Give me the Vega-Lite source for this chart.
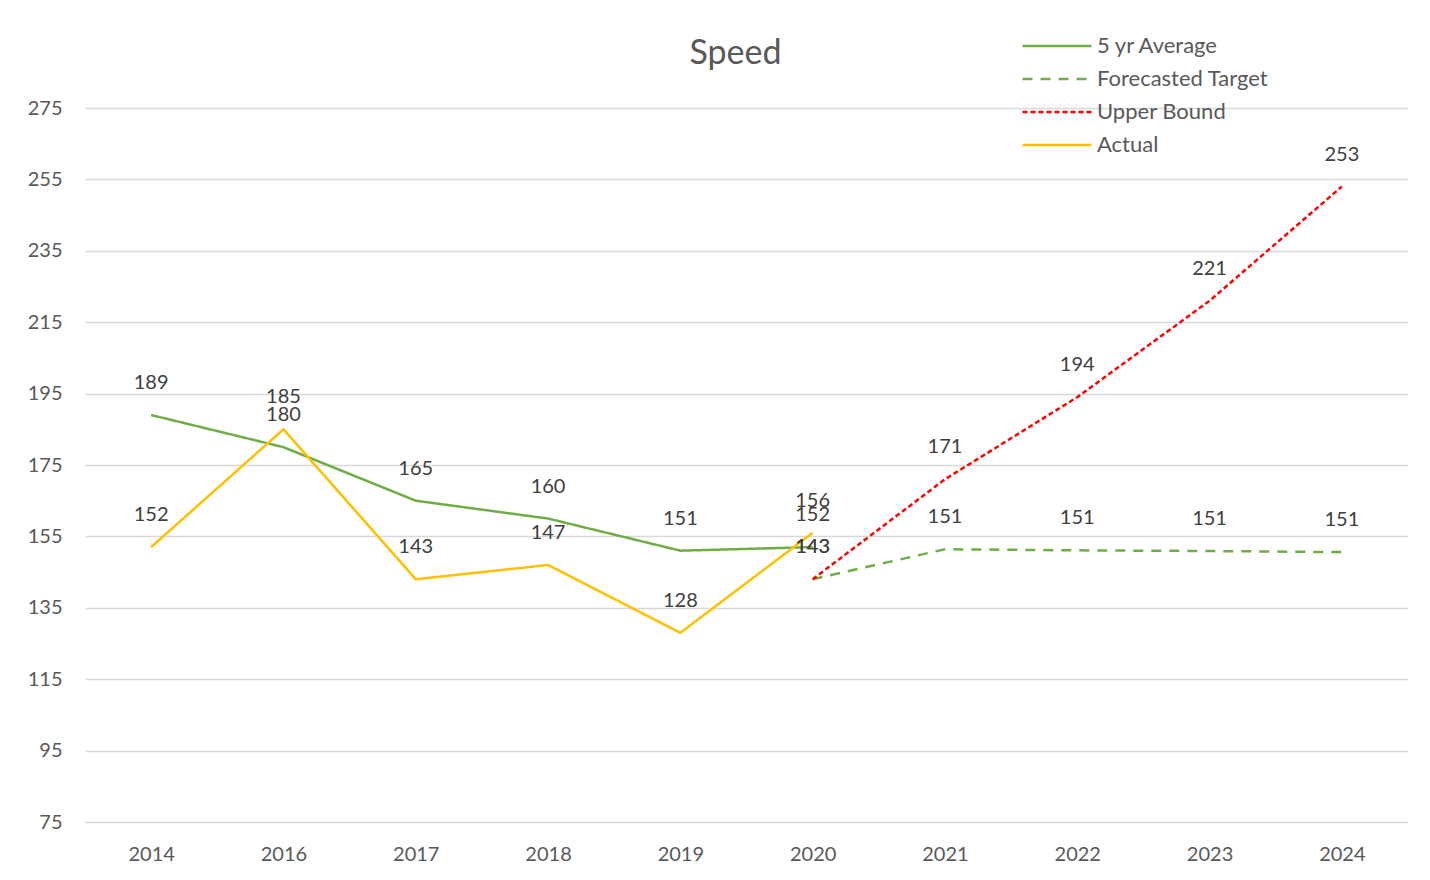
{
  "$schema": "https://vega.github.io/schema/vega-lite/v6.json",
  "autosize": "none",
  "width": 1323,
  "height": 714,
  "padding": {"left": 85, "top": 108, "right": 22, "bottom": 58},
  "background": "white",
  "config": {
    "font": "Lato",
    "view": {"stroke": null},
    "axis": {"labelFont": "Lato", "labelColor": "#595959", "labelFontSize": 20, "domain": false, "ticks": false, "title": null}
  },
  "title": {"text": "Speed", "fontSize": 34, "font": "Lato", "fontWeight": "normal", "color": "#595959", "anchor": "middle", "offset": 0, "dy": 36, "dx": -11},
  "data": {"values": [
    {"year": "2014", "series": "5 yr Average", "value": 189},
    {"year": "2016", "series": "5 yr Average", "value": 180},
    {"year": "2017", "series": "5 yr Average", "value": 165},
    {"year": "2018", "series": "5 yr Average", "value": 160},
    {"year": "2019", "series": "5 yr Average", "value": 151},
    {"year": "2020", "series": "5 yr Average", "value": 152},
    {"year": "2014", "series": "Actual", "value": 152},
    {"year": "2016", "series": "Actual", "value": 185},
    {"year": "2017", "series": "Actual", "value": 143},
    {"year": "2018", "series": "Actual", "value": 147},
    {"year": "2019", "series": "Actual", "value": 128},
    {"year": "2020", "series": "Actual", "value": 156},
    {"year": "2020", "series": "Forecasted Target", "value": 143},
    {"year": "2021", "series": "Forecasted Target", "value": 151.4},
    {"year": "2022", "series": "Forecasted Target", "value": 151.1},
    {"year": "2023", "series": "Forecasted Target", "value": 150.9},
    {"year": "2024", "series": "Forecasted Target", "value": 150.6},
    {"year": "2020", "series": "Upper Bound", "value": 143},
    {"year": "2021", "series": "Upper Bound", "value": 171},
    {"year": "2022", "series": "Upper Bound", "value": 194},
    {"year": "2023", "series": "Upper Bound", "value": 221},
    {"year": "2024", "series": "Upper Bound", "value": 253}
  ]},
  "encoding": {
    "x": {"field": "year", "type": "ordinal", "sort": ["2014","2016","2017","2018","2019","2020","2021","2022","2023","2024"],
      "scale": {"type": "point", "padding": 0.5},
      "axis": {"labelAngle": 0, "labelPadding": 22, "grid": false}},
    "y": {"field": "value", "type": "quantitative",
      "scale": {"domain": [75, 275], "nice": false, "zero": false},
      "axis": {"values": [75,95,115,135,155,175,195,215,235,255,275], "labelPadding": 23, "grid": true, "gridColor": "#D9D9D9", "gridWidth": 1.5}}
  },
  "layer": [
    {
      "mark": {"type": "line", "strokeWidth": 2.5},
      "encoding": {
        "color": {"field": "series", "type": "nominal",
          "scale": {"domain": ["5 yr Average","Forecasted Target","Upper Bound","Actual"], "range": ["#70AD47","#70AD47","#FF0000","#FFC000"]},
          "legend": {"title": null, "orient": "none", "legendX": 936, "legendY": -73, "symbolType": "stroke", "symbolSize": 4761, "symbolStrokeWidth": 2.5, "labelFontSize": 22, "labelColor": "#595959", "labelFont": "Lato", "labelLimit": 400, "clipHeight": 22, "rowPadding": 11, "labelOffset": 4}},
        "strokeDash": {"field": "series", "type": "nominal",
          "scale": {"domain": ["5 yr Average","Forecasted Target","Upper Bound","Actual"], "range": [[1,0],[10,8],[5,3],[1,0]]},
          "legend": {"title": null, "orient": "none", "legendX": 936, "legendY": -73, "symbolType": "stroke", "symbolSize": 4761, "symbolStrokeWidth": 2.5, "labelFontSize": 22, "labelColor": "#595959", "labelFont": "Lato", "labelLimit": 400, "clipHeight": 22, "rowPadding": 11, "labelOffset": 4}}
      }
    },
    {
      "mark": {"type": "text", "dy": -32, "fontSize": 20, "color": "#404040", "font": "Lato"},
      "encoding": {"text": {"field": "value", "type": "quantitative", "format": ".0f"}}
    }
  ]
}
